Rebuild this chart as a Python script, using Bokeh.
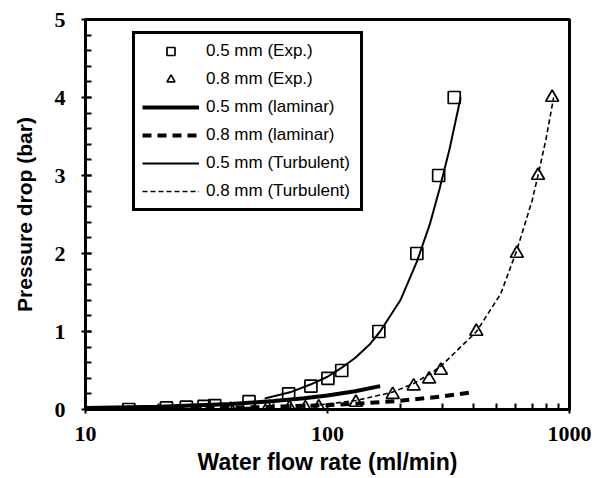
from bokeh.plotting import figure
from bokeh.models import (Legend, LegendItem, LogAxis, LinearAxis, Range1d, LogScale,
                          SingleIntervalTicker, FixedTicker, BasicTickFormatter)
from bokeh.embed import file_html
from bokeh.resources import INLINE

# ---- data ----
sq_x = [15.1, 21.6, 26.1, 30.9, 34.2, 47.4, 69.1, 85.4, 100.4, 114.5, 163, 234, 288, 334]
sq_y = [0.0, 0.02, 0.03, 0.04, 0.05, 0.1, 0.2, 0.3, 0.4, 0.5, 1.0, 2.0, 3.0, 4.0]

tri_x = [39.8, 56.5, 69.7, 81.0, 92.0, 131, 186, 227, 263, 294, 412, 606, 741, 848]
tri_y = [0.0, 0.02, 0.02, 0.02, 0.03, 0.09, 0.19, 0.3, 0.39, 0.5, 1.0, 2.0, 3.0, 4.0]

lam05_x = [10, 20, 40, 60, 80, 100, 130, 165]
lam05_y = [0.018, 0.036, 0.072, 0.108, 0.145, 0.18, 0.235, 0.30]

lam08_x = [10, 50, 100, 150, 200, 300, 395]
lam08_y = [0.006, 0.028, 0.056, 0.085, 0.112, 0.168, 0.22]

turb05_x = [55, 70, 85, 100, 115, 130, 150, 165, 200, 235, 265, 290, 320, 355]
turb05_y = [0.14, 0.22, 0.32, 0.42, 0.54, 0.66, 0.84, 1.0, 1.40, 1.91, 2.38, 2.82, 3.35, 4.0]

turb08_x = [93, 131, 185, 226, 260, 293, 344, 413, 519, 604, 701, 741, 800, 860]
turb08_y = [0.06, 0.115, 0.22, 0.33, 0.44, 0.55, 0.76, 1.0, 1.48, 2.03, 2.68, 3.0, 3.47, 4.0]

labels = ["0.5 mm (Exp.)", "0.8 mm (Exp.)", "0.5 mm (laminar)", "0.8 mm (laminar)",
          "0.5 mm (Turbulent)", "0.8 mm (Turbulent)"]

x_ticks = [10, 100, 1000]
x_minor = [20, 30, 40, 50, 60, 70, 80, 90, 200, 300, 400, 500, 600, 700, 800, 900]

x_title = "Water flow rate (ml/min)"
y_title = "Pressure drop (bar)"

TICK_FONT = "Liberation Serif"
TITLE_FONT = "Liberation Sans"

p = figure(width=602, height=478, x_axis_type=None, y_axis_type=None,
           x_range=Range1d(10, 1000), y_range=Range1d(0, 5),
           output_backend="svg", toolbar_location=None)
p.x_scale = LogScale()

p.min_border_left = 85
p.min_border_right = 33
p.min_border_top = 19
p.min_border_bottom = 69
p.outline_line_color = "black"
p.outline_line_width = 3
p.outline_line_alpha = 1
p.xgrid.visible = False
p.ygrid.visible = False
p.background_fill_color = "white"
p.border_fill_color = "white"

xa = LogAxis(ticker=FixedTicker(ticks=x_ticks, minor_ticks=x_minor),
             formatter=BasicTickFormatter(use_scientific=False))
ya = LinearAxis(ticker=SingleIntervalTicker(interval=1, num_minor_ticks=5))

for ax in (xa, ya):
    ax.axis_line_width = 3
    ax.axis_line_color = "black"
    ax.major_tick_line_width = 2
    ax.minor_tick_line_width = 2
    ax.major_tick_in = 6
    ax.major_tick_out = 4
    ax.minor_tick_in = 6
    ax.minor_tick_out = 0
    ax.major_label_text_font = TICK_FONT
    ax.major_label_text_font_style = "bold"
    ax.major_label_text_font_size = "22px"
    ax.major_label_text_color = "black"
    ax.axis_label_text_font = TITLE_FONT
    ax.axis_label_text_font_style = "bold"
    ax.axis_label_text_color = "black"

xa.axis_label = x_title
xa.axis_label_text_font_size = "23px"
xa.major_label_standoff = 13
xa.axis_label_standoff = 5
ya.axis_label = y_title
ya.axis_label_text_font_size = "21px"
ya.major_label_standoff = 16
ya.axis_label_standoff = 16

p.add_layout(xa, "below")
p.add_layout(ya, "left")

r_sq = p.scatter(sq_x, sq_y, marker="square", size=12, fill_color=None,
                 line_color="black", line_width=1.7)
r_tri = p.scatter(tri_x, tri_y, marker="triangle", size=13, fill_color=None,
                  line_color="black", line_width=1.7)
r_l05 = p.line(lam05_x, lam05_y, line_color="black", line_width=4)
r_l08 = p.line(lam08_x, lam08_y, line_color="black", line_width=4, line_dash="9 6")
r_t05 = p.line(turb05_x, turb05_y, line_color="black", line_width=2)
r_t08 = p.line(turb08_x, turb08_y, line_color="black", line_width=1.6, line_dash="5 3")

legend = Legend(items=[LegendItem(label=l, renderers=[r]) for l, r in
                       zip(labels, [r_sq, r_tri, r_l05, r_l08, r_t05, r_t08])],
                location=(47, 198))
legend.label_text_font = TITLE_FONT
legend.label_text_font_size = "17px"
legend.label_text_color = "black"
legend.label_height = 20
legend.glyph_height = 20
legend.glyph_width = 57
legend.label_width = 147
legend.label_standoff = 7
legend.spacing = 8
legend.padding = 7
legend.margin = 0
legend.border_line_color = "black"
legend.border_line_width = 3
legend.border_line_alpha = 1
legend.background_fill_alpha = 1
p.add_layout(legend, "center")

open("out.html", "w").write(file_html(p, INLINE))
